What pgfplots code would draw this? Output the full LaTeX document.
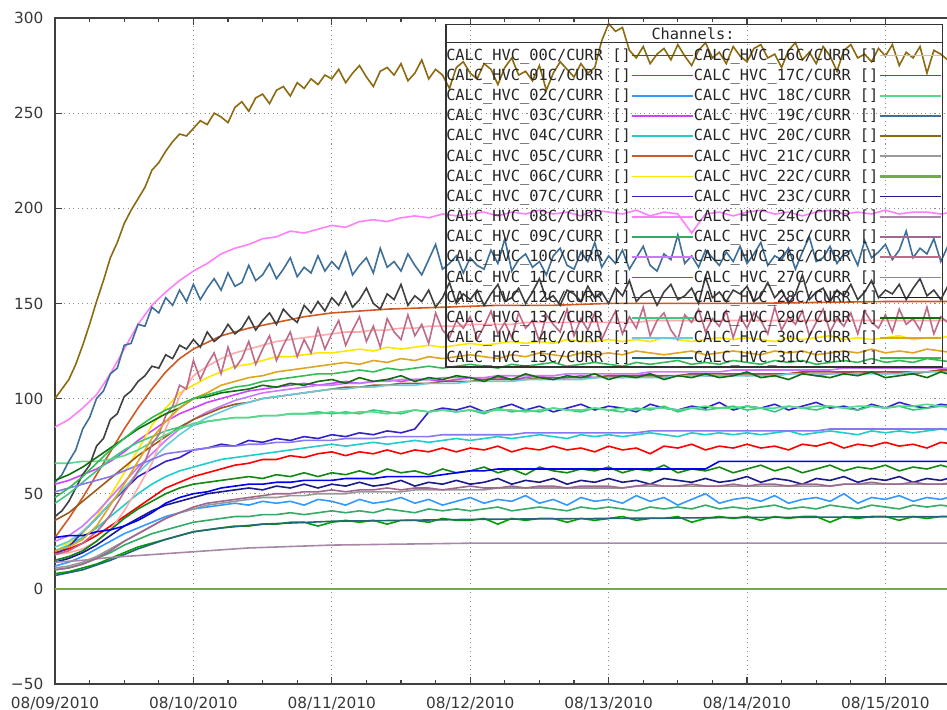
\documentclass[border=0pt]{standalone}
\usepackage{fontspec}
\setmainfont{DejaVu Sans}
\setmonofont{DejaVu Sans Mono}
\usepackage{pgfplots}
\pgfplotsset{compat=1.18}

\newcommand\tickfnt{\fontsize{11.5}{13}\selectfont}
\newcommand\legfnt{\fontsize{11.5}{13}\selectfont\ttfamily}

% channel colours
\definecolor{c00}{HTML}{FF0000}
\definecolor{c01}{HTML}{00A000}
\definecolor{c02}{HTML}{3399FF}
\definecolor{c03}{HTML}{CC44FF}
\definecolor{c04}{HTML}{22CCCC}
\definecolor{c05}{HTML}{CC5A22}
\definecolor{c06}{HTML}{FFE600}
\definecolor{c07}{HTML}{3322CC}
\definecolor{c08}{HTML}{FF80FF}
\definecolor{c09}{HTML}{33AA66}
\definecolor{c10}{HTML}{CC77FF}
\definecolor{c11}{HTML}{9A5A1A}
\definecolor{c12}{HTML}{404040}
\definecolor{c13}{HTML}{3CC87F}
\definecolor{c14}{HTML}{66CCDD}
\definecolor{c15}{HTML}{226677}
\definecolor{c16}{HTML}{FFAAAA}
\definecolor{c17}{HTML}{118811}
\definecolor{c18}{HTML}{55D98A}
\definecolor{c19}{HTML}{3D6F99}
\definecolor{c20}{HTML}{8B6A10}
\definecolor{c21}{HTML}{999999}
\definecolor{c22}{HTML}{77AA44}
\definecolor{c23}{HTML}{1A1A8C}
\definecolor{c24}{HTML}{A888A8}
\definecolor{c25}{HTML}{A06890}
\definecolor{c26}{HTML}{C06A8A}
\definecolor{c27}{HTML}{8877EE}
\definecolor{c28}{HTML}{0000EE}
\definecolor{c29}{HTML}{0F6F0F}
\definecolor{c30}{HTML}{DDA520}
\definecolor{c31}{HTML}{33BB55}

% samples are taken every 0.05 or 0.1 day
\pgfplotsset{
  table/s5/.style={x expr=\coordindex*0.05, y index=0, header=false, row sep=\\},
  table/s10/.style={x expr=\coordindex*0.1, y index=0, header=false, row sep=\\},
}

\begin{document}
\begin{tikzpicture}
\begin{axis}[
  at={(0,0)}, anchor=south west,
  scale only axis, width=685.1pt, height=499.5pt,
  xmin=0, xmax=6.6, ymin=-50, ymax=300,
  xtick={0,1,2,3,4,5,6},
  xticklabels={08/09/2010,08/10/2010,08/11/2010,08/12/2010,08/13/2010,08/14/2010,08/15/2010},
  minor x tick num=3,
  ytick={-50,0,...,300},
  yticklabels={−50,0,50,100,150,200,250,300},
  grid=major,
  major grid style={black!45, line width=0.6pt, dash pattern=on 0.8pt off 2.6pt},
  axis line style={black!75, line width=1.1pt},
  tick align=inside,
  major tick length=5pt, minor tick length=3pt,
  every tick/.style={black!75, line width=0.8pt},
  tick label style={font=\tickfnt, text=black!78},
  xticklabel style={yshift=-6pt},
  yticklabel style={xshift=-5.2pt},
  every axis plot/.append style={line width=1.2pt},
  legend columns=16, transpose legend,
  legend plot pos=right,
  legend cell align=left,
  legend style={at={(axis cs:2.825,284.1)}, anchor=north west,
    draw=none, fill=none, font=\legfnt, text=black!85,
    inner sep=0pt, row sep=4.9pt, column sep=0pt,
    nodes={inner sep=0pt}},
  legend image code/.code={\draw[#1, line width=1pt] (8pt,0pt) -- (40pt,0pt); \path (0pt,0pt) -- (46pt,0pt);},
]

% 00
\addplot[c00] table[s10]{19\\21\\24\\28\\33\\38\\43\\48\\53\\56\\59\\61\\63\\65\\66\\68\\68\\70\\69\\71\\72\\70\\72\\71\\73\\71\\73\\72\\74\\72\\74\\73\\75\\72\\74\\73\\75\\73\\74\\72\\75\\73\\74\\71\\75\\74\\76\\73\\75\\74\\76\\74\\75\\73\\76\\75\\77\\74\\76\\75\\77\\75\\76\\74\\77\\76\\};
\addlegendentry{CALC\_HVC\_00C/CURR []}
% 01
\addplot[c01] table[s10]{8\\9\\11\\13\\16\\19\\22\\24\\26\\28\\30\\31\\32\\33\\33\\34\\34\\35\\35\\33\\35\\36\\35\\36\\34\\36\\36\\35\\37\\36\\36\\37\\34\\37\\36\\37\\37\\35\\37\\36\\37\\38\\36\\37\\37\\38\\35\\37\\38\\37\\38\\36\\38\\37\\38\\38\\35\\38\\37\\38\\38\\36\\38\\37\\38\\38\\};
\addlegendentry{CALC\_HVC\_01C/CURR []}
% 02
\addplot[c02] table[s10]{12\\14\\17\\21\\25\\29\\32\\35\\38\\40\\42\\43\\44\\45\\44\\46\\45\\46\\44\\47\\46\\44\\47\\45\\46\\48\\45\\47\\44\\46\\48\\45\\47\\46\\49\\45\\47\\44\\48\\46\\47\\45\\49\\46\\48\\44\\47\\50\\45\\47\\48\\46\\49\\45\\47\\48\\46\\50\\45\\48\\47\\49\\46\\48\\47\\49\\};
\addlegendentry{CALC\_HVC\_02C/CURR []}
% 03
\addplot[c03] table[s10]{55\\57\\60\\63\\67\\72\\78\\83\\88\\92\\95\\98\\100\\102\\104\\105\\106\\107\\108\\107\\108\\109\\108\\109\\110\\109\\110\\110\\109\\110\\111\\110\\111\\110\\111\\112\\110\\111\\112\\111\\112\\111\\112\\113\\111\\112\\113\\112\\112\\113\\112\\113\\112\\113\\114\\112\\113\\114\\113\\114\\113\\114\\113\\114\\115\\114\\};
\addlegendentry{CALC\_HVC\_03C/CURR []}
% 04
\addplot[c04] table[s10]{20\\23\\27\\32\\38\\44\\50\\55\\59\\62\\64\\66\\68\\69\\70\\71\\72\\73\\74\\75\\76\\75\\76\\77\\76\\77\\78\\77\\78\\79\\78\\79\\80\\79\\80\\81\\80\\79\\81\\80\\81\\80\\81\\82\\81\\80\\82\\81\\82\\81\\82\\81\\82\\83\\81\\82\\83\\82\\81\\83\\82\\83\\82\\83\\84\\83\\};
\addlegendentry{CALC\_HVC\_04C/CURR []}
% 05
\addplot[c05] coordinates {(0,27)(0.1,37)(0.2,48)(0.3,60)(0.4,72)(0.5,84)(0.6,95)(0.7,105)(0.8,114)(0.9,121)(1.0,126)(1.2,133)(1.4,137)(1.6,140)(1.8,143)(2.0,145)(2.4,147)(2.8,148)(3.2,149)(3.6,149)(4.0,150)(5.0,150)(6.0,151)(6.6,151)};
\addlegendentry{CALC\_HVC\_05C/CURR []}
% 06
\addplot[c06] table[s10]{22\\24\\29\\38\\49\\61\\73\\86\\95\\103\\107\\111\\114\\117\\118\\120\\122\\122\\123\\124\\124\\125\\126\\125\\127\\126\\127\\128\\127\\128\\129\\128\\129\\130\\129\\130\\129\\131\\130\\130\\131\\130\\131\\130\\132\\131\\130\\131\\132\\131\\132\\131\\130\\132\\131\\132\\133\\131\\132\\131\\132\\133\\131\\132\\132\\133\\};
\addlegendentry{CALC\_HVC\_06C/CURR []}
% 07
\addplot[c07] table[s10]{18\\22\\30\\37\\45\\52\\59\\63\\67\\69\\73\\74\\76\\75\\78\\77\\79\\78\\80\\79\\81\\80\\82\\81\\83\\82\\84\\93\\95\\94\\96\\93\\95\\97\\94\\96\\93\\95\\97\\94\\96\\95\\93\\97\\95\\94\\96\\95\\98\\94\\96\\95\\97\\94\\96\\98\\95\\96\\94\\97\\95\\98\\96\\95\\97\\96\\};
\addlegendentry{CALC\_HVC\_07C/CURR []}
% 08
\addplot[c08] table[s10]{85\\89\\95\\102\\113\\126\\139\\149\\156\\162\\167\\171\\176\\179\\181\\184\\185\\188\\187\\189\\191\\190\\193\\194\\193\\195\\196\\195\\197\\196\\197\\198\\196\\198\\197\\199\\197\\198\\196\\199\\198\\197\\199\\196\\198\\197\\187\\197\\198\\196\\198\\199\\197\\198\\196\\198\\199\\197\\198\\197\\199\\197\\198\\198\\197\\198\\};
\addlegendentry{CALC\_HVC\_08C/CURR []}
% 09
\addplot[c09] table[s10]{10\\11\\13\\16\\19\\23\\26\\29\\31\\33\\35\\36\\37\\38\\38\\39\\39\\40\\39\\40\\41\\40\\41\\40\\42\\41\\40\\42\\41\\42\\41\\42\\43\\41\\42\\43\\42\\41\\43\\42\\43\\42\\41\\43\\42\\43\\42\\44\\42\\43\\42\\43\\44\\42\\43\\42\\44\\43\\42\\44\\43\\42\\44\\43\\44\\43\\};
\addlegendentry{CALC\_HVC\_09C/CURR []}
% 10
\addplot[c10] table[s10]{25\\28\\33\\40\\48\\56\\64\\71\\78\\84\\89\\93\\96\\99\\101\\103\\104\\105\\106\\107\\107\\108\\108\\109\\109\\110\\110\\110\\111\\111\\111\\111\\112\\112\\112\\112\\112\\113\\113\\113\\113\\113\\113\\114\\114\\114\\114\\114\\114\\115\\115\\115\\115\\115\\115\\115\\115\\116\\116\\116\\116\\116\\116\\116\\116\\116\\};
\addlegendentry{CALC\_HVC\_10C/CURR []}
% 11
\addplot[c11] table[s10]{36\\40\\46\\52\\58\\64\\70\\75\\80\\85\\89\\92\\95\\97\\98\\100\\101\\102\\103\\104\\105\\106\\106\\107\\107\\108\\108\\108\\109\\109\\109\\110\\110\\110\\110\\111\\111\\111\\111\\111\\112\\112\\112\\112\\112\\112\\113\\113\\113\\113\\113\\113\\113\\113\\114\\114\\114\\114\\114\\114\\114\\114\\114\\114\\115\\115\\};
\addlegendentry{CALC\_HVC\_11C/CURR []}
% 12
\addplot[c12] table[s5]{38\\41\\46\\53\\60\\65\\75\\79\\89\\92\\101\\104\\109\\112\\117\\116\\123\\121\\128\\126\\131\\127\\135\\130\\133\\139\\134\\137\\143\\136\\141\\145\\139\\147\\143\\140\\149\\145\\151\\146\\153\\149\\156\\148\\152\\158\\150\\147\\155\\152\\160\\149\\154\\151\\157\\148\\153\\161\\150\\155\\152\\157\\149\\155\\160\\151\\153\\158\\150\\156\\163\\152\\154\\149\\157\\155\\151\\159\\153\\156\\150\\158\\154\\162\\151\\155\\157\\149\\156\\160\\152\\154\\158\\150\\164\\153\\156\\151\\157\\155\\159\\151\\154\\161\\153\\157\\150\\155\\165\\152\\156\\158\\151\\157\\154\\160\\152\\156\\162\\153\\157\\155\\160\\152\\158\\163\\154\\157\\152\\159\\156\\};
\addlegendentry{CALC\_HVC\_12C/CURR []}
% 13
\addplot[c13] table[s10]{45\\50\\56\\62\\68\\73\\77\\80\\83\\85\\86\\88\\89\\90\\90\\91\\91\\92\\92\\93\\92\\93\\92\\94\\93\\92\\94\\93\\94\\93\\94\\92\\95\\93\\94\\93\\95\\94\\93\\95\\94\\93\\95\\94\\96\\93\\95\\94\\95\\96\\94\\95\\93\\96\\95\\94\\96\\95\\94\\96\\95\\96\\94\\95\\96\\95\\};
\addlegendentry{CALC\_HVC\_13C/CURR []}
% 14
\addplot[c14] table[s10]{22\\25\\30\\37\\45\\53\\61\\68\\75\\81\\86\\90\\93\\96\\98\\100\\101\\102\\103\\104\\105\\105\\106\\106\\107\\107\\107\\108\\108\\108\\109\\109\\109\\109\\110\\110\\110\\110\\110\\111\\111\\111\\111\\111\\111\\112\\112\\112\\112\\112\\112\\112\\112\\113\\113\\113\\113\\113\\113\\113\\113\\113\\114\\114\\114\\114\\};
\addlegendentry{CALC\_HVC\_14C/CURR []}
% 15
\addplot[c15] coordinates {(0,7)(0.2,10)(0.4,15)(0.6,21)(0.8,26)(1.0,30)(1.2,32)(1.5,34)(2.0,35.5)(2.5,36)(3.0,36.5)(4.0,37)(5.0,37.5)(6.6,38)};
\addlegendentry{CALC\_HVC\_15C/CURR []}
% 16
\addplot[c16] table[s10]{18\\19\\21\\25\\31\\41\\53\\66\\84\\101\\112\\117\\121\\124\\126\\128\\130\\131\\132\\133\\134\\135\\135\\136\\136\\137\\137\\138\\138\\138\\139\\139\\139\\139\\140\\140\\140\\140\\140\\140\\140\\140\\140\\141\\141\\141\\141\\141\\141\\141\\141\\141\\141\\141\\141\\141\\141\\141\\141\\141\\141\\141\\141\\141\\141\\141\\};
\addlegendentry{CALC\_HVC\_16C/CURR []}
% 17
\addplot[c17] table[s10]{15\\17\\20\\25\\31\\37\\42\\46\\50\\53\\55\\56\\57\\58\\59\\58\\60\\59\\61\\59\\61\\60\\62\\60\\63\\61\\62\\60\\63\\61\\62\\64\\61\\63\\60\\64\\62\\61\\63\\62\\64\\61\\63\\62\\65\\61\\63\\62\\64\\61\\63\\65\\62\\64\\61\\63\\65\\62\\64\\63\\65\\62\\64\\63\\65\\63\\};
\addlegendentry{CALC\_HVC\_17C/CURR []}
% 18
\addplot[c18] table[s10]{66\\66\\67\\67\\68\\70\\73\\77\\81\\84\\87\\88\\89\\90\\90\\91\\91\\92\\92\\92\\93\\92\\93\\93\\92\\93\\94\\93\\94\\93\\94\\93\\94\\94\\93\\94\\95\\94\\94\\95\\94\\95\\94\\95\\95\\94\\95\\96\\95\\95\\96\\95\\95\\96\\95\\96\\96\\95\\96\\96\\95\\96\\96\\97\\96\\96\\};
\addlegendentry{CALC\_HVC\_18C/CURR []}
% 19
\addplot[c19] table[s5]{56\\60\\67\\73\\84\\90\\100\\104\\113\\116\\128\\129\\139\\138\\148\\145\\153\\149\\157\\151\\160\\152\\158\\163\\157\\166\\159\\161\\170\\162\\165\\171\\163\\168\\174\\164\\169\\166\\175\\167\\172\\168\\177\\165\\170\\174\\166\\179\\169\\172\\167\\176\\170\\165\\173\\181\\168\\171\\175\\166\\174\\170\\168\\178\\171\\184\\167\\173\\176\\169\\172\\165\\175\\179\\170\\168\\177\\172\\182\\169\\175\\171\\178\\168\\174\\180\\170\\167\\176\\173\\186\\171\\175\\169\\178\\174\\170\\177\\172\\180\\171\\176\\182\\170\\175\\173\\179\\168\\177\\185\\172\\174\\180\\171\\176\\178\\170\\183\\174\\177\\181\\173\\178\\188\\174\\179\\176\\184\\172\\180\\177\\};
\addlegendentry{CALC\_HVC\_19C/CURR []}
% 20
\addplot[c20] table[s5]{100\\105\\110\\118\\128\\139\\151\\162\\174\\182\\192\\199\\205\\211\\220\\224\\230\\235\\239\\238\\242\\246\\244\\250\\248\\245\\253\\256\\251\\258\\260\\255\\262\\264\\259\\266\\263\\268\\265\\270\\268\\273\\266\\271\\275\\269\\264\\272\\274\\270\\276\\267\\271\\278\\268\\273\\270\\263\\274\\277\\271\\268\\276\\273\\265\\274\\279\\270\\272\\267\\275\\262\\271\\277\\273\\269\\276\\271\\274\\288\\297\\293\\295\\283\\279\\285\\276\\281\\284\\278\\286\\280\\275\\283\\287\\279\\282\\276\\285\\280\\277\\284\\286\\279\\281\\274\\283\\287\\278\\282\\276\\285\\280\\272\\283\\286\\279\\281\\277\\284\\280\\286\\275\\282\\279\\285\\271\\283\\281\\278\\284\\};
\addlegendentry{CALC\_HVC\_20C/CURR []}
% 21
\addplot[c21] table[s10]{11\\12\\14\\17\\21\\25\\29\\33\\37\\40\\42\\44\\45\\46\\47\\48\\48\\49\\49\\50\\50\\50\\51\\51\\51\\51\\52\\52\\52\\52\\52\\52\\53\\53\\53\\53\\53\\53\\53\\53\\53\\53\\54\\54\\54\\54\\54\\54\\54\\54\\54\\54\\54\\54\\54\\54\\54\\55\\55\\55\\55\\55\\55\\55\\55\\55\\};
\addlegendentry{CALC\_HVC\_21C/CURR []}
% 22
\addplot[c22, line width=1.6pt] coordinates {(0,0)(6.6,0)};
\addlegendentry{CALC\_HVC\_22C/CURR []}
% 23
\addplot[c23] table[s10]{14\\16\\19\\23\\28\\33\\37\\41\\44\\46\\48\\50\\51\\52\\53\\52\\54\\53\\55\\53\\55\\54\\56\\54\\55\\57\\54\\56\\55\\57\\55\\56\\58\\55\\57\\56\\58\\55\\57\\56\\58\\56\\57\\55\\58\\57\\56\\58\\56\\57\\59\\56\\58\\57\\55\\58\\57\\59\\56\\58\\57\\59\\56\\58\\57\\59\\};
\addlegendentry{CALC\_HVC\_23C/CURR []}
% 24
\addplot[c24] coordinates {(0,14)(0.2,15)(0.4,16.5)(0.6,17.5)(0.8,18.5)(1.0,19.5)(1.2,20.5)(1.4,21.5)(1.6,22)(2.0,23)(2.5,23.5)(3.0,24)(4.0,24)(5.0,24)(6.6,24)};
\addlegendentry{CALC\_HVC\_24C/CURR []}
% 25
\addplot[c25] table[s10]{10\\11\\13\\16\\20\\25\\29\\33\\37\\40\\43\\45\\46\\47\\48\\49\\50\\50\\51\\51\\52\\51\\52\\52\\53\\52\\53\\53\\52\\53\\54\\53\\53\\54\\53\\54\\54\\53\\54\\54\\54\\53\\54\\55\\54\\54\\55\\54\\54\\55\\54\\55\\55\\54\\55\\55\\54\\55\\55\\56\\55\\55\\56\\55\\55\\56\\};
\addlegendentry{CALC\_HVC\_25C/CURR []}
% 26
\addplot[c26] table[s5]{18\\19\\20\\22\\24\\27\\30\\34\\39\\45\\51\\56\\62\\67\\76\\81\\91\\96\\107\\105\\120\\110\\118\\124\\113\\127\\116\\121\\130\\118\\126\\133\\120\\128\\135\\122\\131\\124\\137\\126\\134\\141\\128\\136\\143\\130\\138\\127\\142\\135\\131\\144\\133\\139\\129\\145\\136\\132\\141\\137\\143\\131\\138\\146\\134\\140\\132\\145\\137\\141\\130\\144\\139\\135\\147\\133\\142\\136\\145\\131\\139\\146\\134\\143\\137\\148\\133\\141\\145\\136\\131\\144\\140\\147\\135\\142\\138\\146\\132\\143\\137\\145\\141\\134\\148\\136\\143\\139\\146\\133\\140\\147\\135\\142\\138\\145\\134\\146\\140\\137\\144\\135\\147\\139\\142\\136\\148\\134\\143\\140\\145\\};
\addlegendentry{CALC\_HVC\_26C/CURR []}
% 27
\addplot[c27] table[s10]{51\\53\\55\\57\\59\\62\\65\\68\\71\\72\\73\\74\\75\\75\\76\\76\\77\\77\\78\\78\\78\\79\\79\\79\\80\\80\\80\\80\\81\\81\\81\\81\\81\\81\\82\\82\\82\\82\\82\\82\\82\\82\\82\\83\\83\\83\\83\\83\\83\\83\\83\\83\\83\\83\\83\\83\\84\\84\\84\\84\\84\\84\\84\\84\\84\\84\\};
\addlegendentry{CALC\_HVC\_27C/CURR []}
% 28
\addplot[c28] table[s10]{27\\28\\28\\30\\31\\33\\36\\40\\45\\48\\50\\51\\53\\54\\55\\55\\56\\56\\57\\57\\57\\58\\58\\58\\59\\59\\59\\59\\60\\61\\62\\62\\63\\63\\63\\63\\63\\63\\63\\63\\63\\63\\63\\63\\63\\63\\63\\63\\67\\67\\67\\67\\67\\67\\67\\67\\67\\67\\67\\67\\67\\67\\67\\67\\67\\67\\};
\addlegendentry{CALC\_HVC\_28C/CURR []}
% 29
\addplot[c29] table[s10]{57\\60\\64\\69\\74\\79\\84\\88\\92\\95\\100\\101\\103\\104\\105\\107\\106\\108\\107\\109\\110\\108\\111\\109\\110\\112\\109\\111\\110\\112\\111\\109\\112\\110\\113\\111\\110\\112\\111\\113\\110\\112\\111\\113\\110\\112\\111\\113\\111\\112\\114\\111\\112\\110\\113\\112\\111\\113\\112\\114\\111\\112\\113\\111\\114\\112\\};
\addlegendentry{CALC\_HVC\_29C/CURR []}
% 30
\addplot[c30] table[s10]{20\\22\\26\\33\\44\\55\\67\\79\\88\\95\\100\\103\\107\\109\\111\\112\\114\\115\\116\\117\\118\\119\\118\\120\\119\\121\\120\\122\\121\\122\\123\\122\\121\\123\\122\\124\\123\\122\\124\\123\\124\\123\\125\\124\\123\\124\\125\\123\\124\\125\\124\\123\\125\\124\\125\\123\\124\\125\\124\\126\\124\\125\\124\\126\\125\\124\\};
\addlegendentry{CALC\_HVC\_30C/CURR []}
% 31
\addplot[c31] table[s10]{48\\53\\59\\66\\73\\79\\85\\90\\94\\97\\100\\102\\104\\106\\107\\109\\110\\111\\112\\113\\113\\114\\115\\114\\116\\115\\116\\117\\116\\117\\118\\117\\116\\118\\117\\118\\119\\117\\118\\119\\118\\117\\119\\118\\119\\120\\118\\119\\118\\120\\119\\118\\120\\119\\120\\118\\119\\120\\119\\121\\119\\120\\119\\121\\120\\119\\};
\addlegendentry{CALC\_HVC\_31C/CURR []}

% frame and title row of the key
\draw[black!80, line width=0.8pt] (axis cs:2.825,296.7) rectangle (axis cs:6.409,116.6);
\draw[black!80, line width=0.8pt] (axis cs:2.825,287.3) -- (axis cs:6.409,287.3);
\node[font=\legfnt, text=black!85] at (axis cs:4.61,291.8) {Channels:};
\end{axis}
\pgfresetboundingbox
\path[use as bounding box] (-41.25pt,-19.5pt) rectangle (669pt,513pt);
\end{tikzpicture}
\end{document}
